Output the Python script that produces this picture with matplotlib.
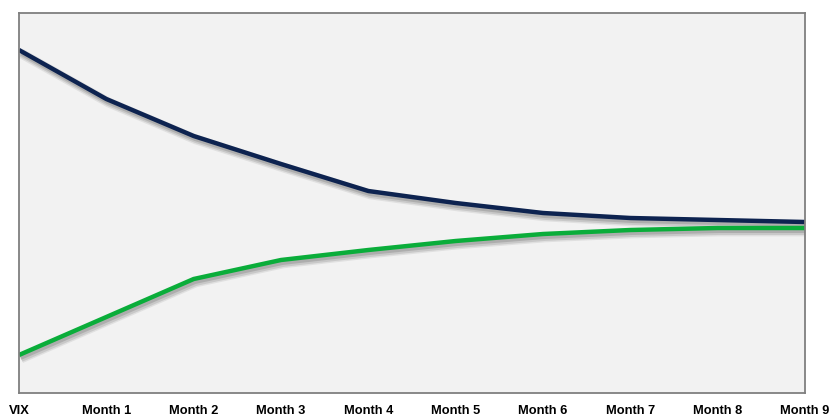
import matplotlib
matplotlib.use("Agg")
import matplotlib.pyplot as plt
import matplotlib.patheffects as pe

labels = ["VIX", "Month 1", "Month 2", "Month 3", "Month 4", "Month 5",
          "Month 6", "Month 7", "Month 8", "Month 9"]
navy_vals = [343, 294, 257, 229, 202, 190, 180, 175, 173, 171]
green_vals = [38, 76, 114, 133, 143, 152, 159, 163, 165, 165]

W, H = 835, 418
fig = plt.figure(figsize=(W / 100, H / 100), dpi=100)
fig.patch.set_facecolor("white")
ax = fig.add_axes([19 / W, (H - 393) / H, 786 / W, 380 / H])
ax.set_facecolor("#f2f2f2")

x = list(range(len(labels)))
shadow = [
    pe.SimpleLineShadow(offset=(1.5, -2.5), shadow_color="#444444", alpha=0.10, linewidth=7),
    pe.SimpleLineShadow(offset=(1.5, -2.5), shadow_color="#444444", alpha=0.15, linewidth=5),
    pe.SimpleLineShadow(offset=(1.0, -2.0), shadow_color="#444444", alpha=0.2, linewidth=3.2),
    pe.Normal(),
]
ax.plot(x, navy_vals, color="#0d2350", lw=3.2, solid_capstyle="butt", path_effects=shadow)
ax.plot(x, green_vals, color="#0aad3a", lw=3.2, solid_capstyle="butt", path_effects=shadow)

ax.set_xlim(0, len(labels) - 1)
ax.set_ylim(0, 380)
ax.set_yticks([])
ax.set_xticks(x)
ax.set_xticklabels(labels, fontfamily="Liberation Sans", fontweight="bold", fontsize=9.3)
ax.tick_params(axis="x", length=0, pad=8.5)
for s in ax.spines.values():
    s.set_color("#7f7f7f")
    s.set_linewidth(1.3)

fig.savefig("out.png", dpi=100)
